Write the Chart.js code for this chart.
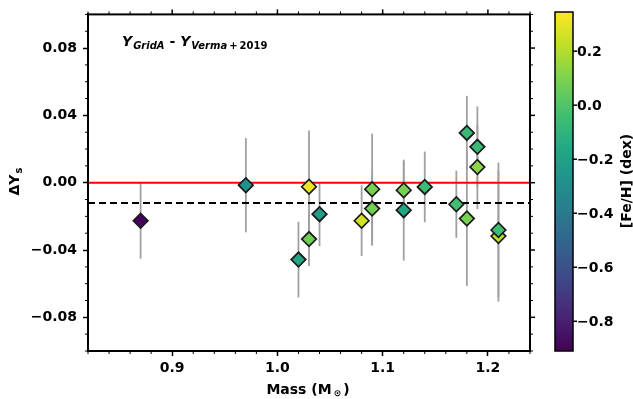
<!DOCTYPE html>
<html>
<head>
<meta charset="utf-8">
<script src="https://cdn.jsdelivr.net/npm/chart.js@4.4.0/dist/chart.umd.min.js"></script>
<style>
  html, body { margin: 0; padding: 0; background: #fff; }
</style>
</head>
<body>
<canvas id="c" width="633" height="399"></canvas>
<script>
// ---- data ----
const mass = [0.87, 0.97, 1.03, 1.03, 1.02, 1.04, 1.08, 1.09, 1.09, 1.12, 1.12, 1.14, 1.17, 1.18, 1.18, 1.19, 1.19, 1.21, 1.21];
const dYs  = [-0.0226, -0.0015, -0.0024, -0.0335, -0.0457, -0.0187, -0.0226, -0.0039, -0.0154, -0.0045, -0.0163, -0.0025, -0.0128, 0.0296, -0.0213, 0.0213, 0.0093, -0.0317, -0.0281];
const dYsErr = [0.0226, 0.028, 0.0334, 0.016, 0.0225, 0.019, 0.021, 0.033, 0.022, 0.017, 0.030, 0.021, 0.020, 0.022, 0.040, 0.024, 0.025, 0.039, 0.040];
const feh  = [-0.90, -0.28, 0.31, 0.07, -0.16, -0.22, 0.26, 0.09, 0.08, 0.09, -0.16, -0.06, -0.04, -0.07, 0.09, -0.07, 0.13, 0.22, -0.05];
const meanOffset = -0.012;

const xTicks = [0.9, 1.0, 1.1, 1.2];
const yTicks = [-0.08, -0.04, 0.0, 0.04, 0.08];
const cbTicks = [0.2, 0.0, -0.2, -0.4, -0.6, -0.8];
const fehMin = -0.91, fehMax = 0.345;

// viridis colormap stops
const VIR = ['#440154','#482475','#414487','#355f8d','#2a788e','#21918c','#22a884','#44bf70','#7ad151','#bddf26','#fde725'];
function hex(h) { return [1, 3, 5].map(i => parseInt(h.substr(i, 2), 16)); }
function viridis(t) {
  t = Math.max(0, Math.min(1, t));
  const p = t * (VIR.length - 1), i = Math.min(Math.floor(p), VIR.length - 2), f = p - i;
  const a = hex(VIR[i]), b = hex(VIR[i + 1]);
  return 'rgb(' + a.map((v, k) => Math.round(v + (b[k] - v) * f)).join(',') + ')';
}
const fehColor = v => viridis((v - fehMin) / (fehMax - fehMin));

const FONT = "'DejaVu Sans'";
const fmt = v => (v < 0 ? '\u2212' : '') + Math.abs(v).toFixed(2);

const extras = {
  id: 'extras',
  beforeDatasetsDraw(chart) {
    const { ctx, chartArea: a, scales: { x, y } } = chart;
    ctx.save();
    // error bars
    ctx.strokeStyle = '#a0a0a0';
    ctx.lineWidth = 1.8;
    mass.forEach((m, i) => {
      const px = x.getPixelForValue(m);
      ctx.beginPath();
      ctx.moveTo(px, y.getPixelForValue(dYs[i] + dYsErr[i]));
      ctx.lineTo(px, y.getPixelForValue(dYs[i] - dYsErr[i]));
      ctx.stroke();
    });
    // zero line
    ctx.strokeStyle = '#ff0000';
    ctx.lineWidth = 2;
    let py = y.getPixelForValue(0);
    ctx.beginPath(); ctx.moveTo(a.left, py); ctx.lineTo(a.right, py); ctx.stroke();
    // mean offset
    ctx.strokeStyle = '#000';
    ctx.setLineDash([7, 4]);
    py = y.getPixelForValue(meanOffset);
    ctx.beginPath(); ctx.moveTo(a.left, py); ctx.lineTo(a.right, py); ctx.stroke();
    ctx.restore();
  },
  afterDraw(chart) {
    const { ctx, chartArea: a, scales: { x, y } } = chart;
    ctx.save();
    ctx.strokeStyle = '#000';
    // frame
    ctx.lineWidth = 2;
    ctx.strokeRect(a.left, a.top, a.right - a.left, a.bottom - a.top);
    // ticks: majors top/right, minors all sides
    ctx.lineWidth = 1.5;
    xTicks.forEach(v => {
      const px = x.getPixelForValue(v);
      ctx.beginPath(); ctx.moveTo(px, a.top); ctx.lineTo(px, a.top - 5); ctx.stroke();
    });
    yTicks.forEach(v => {
      const py = y.getPixelForValue(v);
      ctx.beginPath(); ctx.moveTo(a.right, py); ctx.lineTo(a.right + 5, py); ctx.stroke();
    });
    ctx.lineWidth = 1;
    for (let k = 41; k <= 62; k++) {
      const v = k / 50;
      if (xTicks.some(t => Math.abs(t - v) < 1e-6)) continue;
      const px = x.getPixelForValue(v);
      ctx.beginPath(); ctx.moveTo(px, a.bottom); ctx.lineTo(px, a.bottom + 3);
      ctx.moveTo(px, a.top); ctx.lineTo(px, a.top - 3); ctx.stroke();
    }
    for (let k = -10; k <= 10; k++) {
      const v = k / 100;
      if (yTicks.some(t => Math.abs(t - v) < 1e-6)) continue;
      const py = y.getPixelForValue(v);
      ctx.beginPath(); ctx.moveTo(a.left, py); ctx.lineTo(a.left - 3, py);
      ctx.moveTo(a.right, py); ctx.lineTo(a.right + 3, py); ctx.stroke();
    }

    // colorbar
    const cx0 = 555, cx1 = 573, cy0 = 12, cy1 = 351;
    for (let py = cy0; py < cy1; py++) {
      ctx.fillStyle = viridis(1 - (py + 0.5 - cy0) / (cy1 - cy0));
      ctx.fillRect(cx0, py, cx1 - cx0, 1);
    }
    ctx.lineWidth = 1.5;
    ctx.strokeRect(cx0, cy0, cx1 - cx0, cy1 - cy0);
    ctx.fillStyle = '#000';
    ctx.font = 'bold 14px ' + FONT;
    ctx.textAlign = 'left';
    ctx.textBaseline = 'middle';
    cbTicks.forEach(v => {
      const py = cy1 - (v - fehMin) / (fehMax - fehMin) * (cy1 - cy0);
      ctx.beginPath(); ctx.moveTo(cx1, py); ctx.lineTo(cx1 + 4, py); ctx.stroke();
      ctx.fillText((v < 0 ? '\u2212' : '') + Math.abs(v).toFixed(1), cx1 + 4, py + 1);
    });
    ctx.save();
    ctx.translate(627, 181);
    ctx.rotate(-Math.PI / 2);
    ctx.textAlign = 'center';
    ctx.fillText('[Fe/H] (dex)', 0, 0);
    ctx.restore();

    // y title  ΔY_s
    ctx.save();
    ctx.translate(19, 182);
    ctx.rotate(-Math.PI / 2);
    ctx.textBaseline = 'alphabetic';
    ctx.font = 'bold 14px ' + FONT;
    const wA = ctx.measureText('\u0394Y').width;
    ctx.font = 'bold 10px ' + FONT;
    const wS = ctx.measureText('s').width;
    let sx = -(wA + wS) / 2;
    ctx.font = 'bold 14px ' + FONT;
    ctx.fillText('\u0394Y', sx, 0);
    ctx.font = 'bold 10px ' + FONT;
    ctx.fillText('s', sx + wA + 1, 3);
    ctx.restore();

    // x title  Mass (M_sun)
    ctx.textBaseline = 'alphabetic';
    ctx.font = 'bold 14px ' + FONT;
    const w1 = ctx.measureText('Mass (M').width, w3 = ctx.measureText(')').width;
    ctx.font = 'bold 9px ' + FONT;
    const w2 = ctx.measureText('\u2299').width + 4;
    let tx = 308 - (w1 + w2 + w3) / 2;
    ctx.font = 'bold 14px ' + FONT;
    ctx.fillText('Mass (M', tx, 394);
    ctx.font = 'bold 9px ' + FONT;
    ctx.fillText('\u2299', tx + w1 + 2, 396);
    ctx.font = 'bold 14px ' + FONT;
    ctx.fillText(')', tx + w1 + w2, 394);

    // inner label  Y_GridA - Y_Verma+2019
    const parts = [
      ['Y', 'italic bold 14px', 0, 1],
      ['GridA', 'italic bold 10px', 3, 0],
      [' - ', 'bold 14px', 0, 0],
      ['Y', 'italic bold 14px', 0, 1],
      ['Verma', 'italic bold 10px', 3, 2],
      ['+', 'bold 10px', 3, 2],
      ['2019', 'bold 10px', 3, 0]
    ];
    let ix = 122;
    parts.forEach(([t, f, dy, gap]) => {
      ctx.font = f + ' ' + FONT;
      ctx.fillText(t, ix, 46 + dy);
      ix += ctx.measureText(t).width + gap;
    });
    ctx.restore();
  }
};

new Chart(document.getElementById('c'), {
  type: 'scatter',
  data: {
    datasets: [{
      data: mass.map((m, i) => ({ x: m, y: dYs[i] })),
      pointStyle: 'rectRot',
      pointRadius: 7.3,
      backgroundColor: feh.map(fehColor),
      borderColor: '#1a1a1a',
      borderWidth: 1.7
    }]
  },
  options: {
    responsive: false,
    animation: false,
    events: [],
    layout: { padding: { left: 0, top: 12, right: 103, bottom: 0 } },
    plugins: { legend: { display: false }, tooltip: { enabled: false } },
    scales: {
      x: {
        type: 'linear', min: 0.82, max: 1.24,
        afterBuildTicks: s => { s.ticks = xTicks.map(v => ({ value: v })); },
        afterFit: s => { s.height = 48; },
        ticks: { color: '#000', padding: 4, font: { family: FONT, size: 14, weight: 'bold' }, callback: v => v.toFixed(1) },
        grid: { drawOnChartArea: false, tickLength: 5, tickWidth: 1.5, color: '#000' },
        border: { color: '#000', width: 2 }
      },
      y: {
        type: 'linear', min: -0.1, max: 0.1,
        afterBuildTicks: s => { s.ticks = yTicks.map(v => ({ value: v })); },
        afterFit: s => { s.width = 88; },
        ticks: { color: '#000', padding: 6, font: { family: FONT, size: 14, weight: 'bold' }, callback: v => fmt(v) },
        grid: { drawOnChartArea: false, tickLength: 5, tickWidth: 1.5, color: '#000' },
        border: { color: '#000', width: 2 }
      }
    }
  },
  plugins: [extras]
});
</script>
</body>
</html>
